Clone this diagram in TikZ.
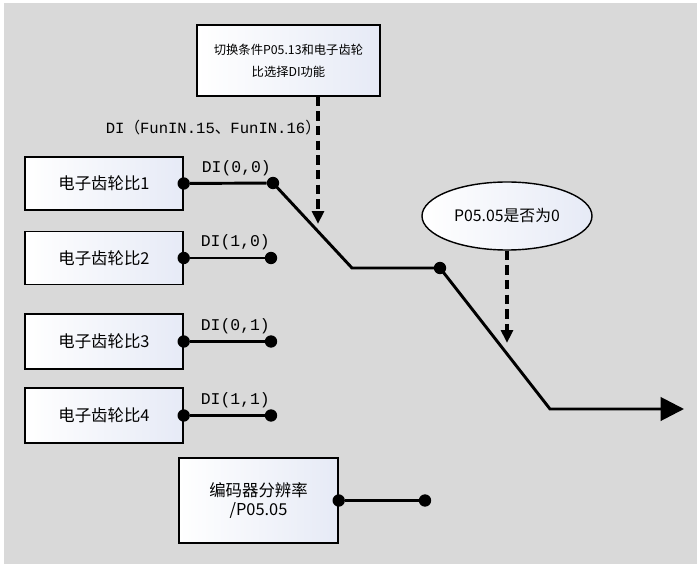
\documentclass[tikz,border=0pt]{standalone}
\usepackage{fontspec}
\setmainfont{Noto Sans CJK SC}
\newfontfamily\dimono{Liberation Mono}
\usetikzlibrary{arrows.meta,shapes.geometric}
\definecolor{bggray}{HTML}{D9D9D9}
\definecolor{boxtint}{HTML}{E6EAF6}
\tikzset{
  gearbox/.style={draw, line width=1.2pt, left color=white, right color=boxtint,
    minimum width=4.74cm, minimum height=1.6cm, inner sep=0pt,
    font=\fontsize{14}{17}\selectfont, align=center},
  dot/.style={circle, fill, inner sep=0pt, minimum size=0.37cm},
  wire/.style={line width=2.5pt},
  dilabel/.style={font=\dimono\fontsize{14}{16}\selectfont, above=2pt, xshift=0.24cm},
  dasharrow/.style={line width=2.6pt, dash pattern=on 8pt off 4.5pt,
    -{Triangle[length=11pt,width=10pt]}}
}
\begin{document}
\begin{tikzpicture}[x=0.03cm, y=-0.03cm]
  \fill[white] (0,0) rectangle (697,567);
  \fill[bggray] (4,3) rectangle (697,564);
  \useasboundingbox (0,0) rectangle (697,567);

  % switching condition box and ellipse
  \node[gearbox, minimum width=5.49cm, minimum height=2.13cm,
    font=\fontsize{10.5}{19}\selectfont] (cond) at (288.5,60.5)
    {切换条件P05.13和电子齿轮\\比选择DI功能};
  \node[anchor=east, font=\fontsize{13.3}{15}\selectfont] (funin) at (325,128)
    {{\dimono DI}（{\dimono FunIN.15}、{\dimono FunIN.16}）};
  \node[ellipse, draw, line width=1.2pt, left color=white, right color=boxtint,
    minimum width=5.1cm, minimum height=2.04cm, inner sep=0pt,
    font=\fontsize{13.5}{15}\selectfont] (zero) at (507,216) {P05.05是否为0};

  % gear ratio boxes
  \node[gearbox] (gear1) at (104,183.5) {电子齿轮比1};
  \node[gearbox] (gear2) at (104,258) {电子齿轮比2};
  \node[gearbox, minimum height=1.65cm] (gear3) at (104,341.5) {电子齿轮比3};
  \node[gearbox, minimum height=1.65cm] (gear4) at (104,415.5) {电子齿轮比4};
  \node[gearbox, minimum width=4.77cm, minimum height=2.55cm] (enc) at (258.5,500.5)
    {编码器分辨率\\/P05.05};

  % contacts
  \node[dot] (in1) at (gear1.east) {};
  \node[dot] (out1) at (273,183) {};
  \node[dot] (in2) at (gear2.east) {};
  \node[dot] (out2) at (271,258) {};
  \node[dot] (in3) at (gear3.east) {};
  \node[dot] (out3) at (271,341.5) {};
  \node[dot] (in4) at (gear4.east) {};
  \node[dot] (out4) at (271,415.5) {};
  \node[dot] (inE) at (enc.east) {};
  \node[dot] (outE) at (425,500.5) {};
  \node[dot] (mid) at (440,268) {};

  \draw[wire] (in1) -- node[dilabel] {DI(0,0)} (out1);
  \draw[wire] (in2) -- node[dilabel] {DI(1,0)} (out2);
  \draw[wire] (in3) -- node[dilabel] {DI(0,1)} (out3);
  \draw[wire] (in4) -- node[dilabel] {DI(1,1)} (out4);
  \draw[wire] (inE) -- (outE);

  % switch path
  \coordinate (bendA) at (352,268);
  \coordinate (bendB) at (550,409);
  \coordinate (outEnd) at (684,409);
  \draw[wire] (out1.center) -- (bendA) -- (mid.center);
  \draw[wire, -{Triangle[length=20pt,width=20pt]}] (mid.center) -- (bendB) -- (outEnd);

  % control arrows
  \coordinate (hitA) at (318,224);
  \coordinate (hitB) at (507,343);
  \draw[dasharrow] (cond.south -| hitA) -- (hitA);
  \draw[dasharrow] (zero.south) -- (hitB);
\end{tikzpicture}
\end{document}
